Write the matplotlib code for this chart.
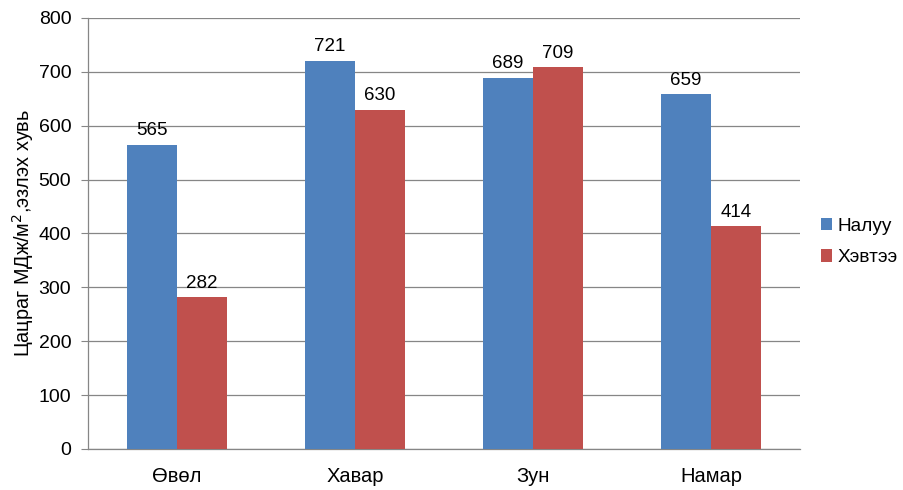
import matplotlib
matplotlib.use("Agg")
import matplotlib.pyplot as plt
import numpy as np

categories = ["Өвөл", "Хавар", "Зун", "Намар"]
series_names = ["Налуу", "Хэвтээ"]
naluu = [565, 721, 689, 659]
hevtee = [282, 630, 709, 414]
yticks = [0, 100, 200, 300, 400, 500, 600, 700, 800]

plt.rcParams['font.family'] = ['Liberation Sans', 'DejaVu Sans']

fig = plt.figure(figsize=(9.04, 4.90), dpi=100)
ax = fig.add_axes([0.0973, 0.0837, 0.7877, 0.8796])

x = np.arange(len(categories))
w = 0.28
b1 = ax.bar(x - w/2, naluu, w, color="#4F81BD", label=series_names[0], zorder=3)
b2 = ax.bar(x + w/2, hevtee, w, color="#C0504D", label=series_names[1], zorder=3)

for bars, vals in ((b1, naluu), (b2, hevtee)):
    for r, v in zip(bars, vals):
        ax.text(r.get_x() + r.get_width()/2, v + 10, str(v), ha="center", va="bottom",
                fontsize=13.5, color="#000000")

ax.set_xlim(-0.5, len(categories) - 0.5)
ax.set_ylim(0, 800)
ax.set_yticks(yticks)
ax.set_yticklabels([str(t) for t in yticks], fontsize=14)
ax.set_xticks(x)
ax.set_xticklabels(categories, fontsize=14.5)
ax.tick_params(axis="x", length=0, pad=13)
ax.tick_params(axis="y", length=5, color="#868686", pad=7)
ax.grid(axis="y", color="#868686", linewidth=0.9, zorder=0)
for s in ("top", "right"):
    ax.spines[s].set_visible(False)
for s in ("left", "bottom"):
    ax.spines[s].set_color("#868686")
    ax.spines[s].set_linewidth(0.9)

ax.set_ylabel("Цацраг МДж/м$^2$,эзлэх хувь", fontsize=14.3, labelpad=2)

ax.legend(loc="center left", bbox_to_anchor=(1.005, 0.48), frameon=False, fontsize=13.7,
          handlelength=0.6, handleheight=0.6, handletextpad=0.3, labelspacing=0.75)

fig.savefig("out.png", dpi=100)
